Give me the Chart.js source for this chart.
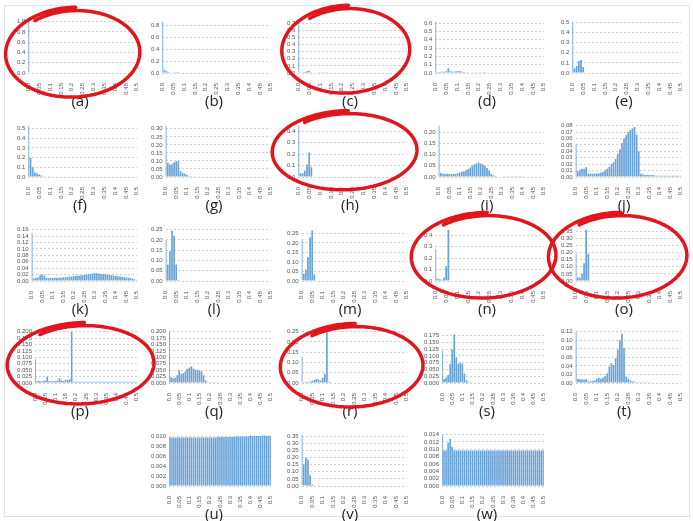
<!DOCTYPE html>
<html>
<head>
<meta charset="utf-8">
<script src="https://cdn.jsdelivr.net/npm/chart.js@4.4.0/dist/chart.umd.min.js"></script>
<style>
  body { margin: 0; background: #fff; }
  #fig { position: relative; width: 693px; height: 521px; overflow: hidden; }
  #frame { position: absolute; left: 4px; top: 5px; width: 686px; height: 512px; border: 1px solid #e2e2e2; box-sizing: border-box; }
  .panel { position: absolute; }
  .lbl { position: absolute; width: 132px; text-align: center; font: 15px 'Open Sans', sans-serif; color: #222; }
  #marks { position: absolute; left: 0; top: 0; pointer-events: none; }
</style>
</head>
<body>
<div id="fig">
  <div id="frame"></div>
  <canvas id="marks" width="693" height="521"></canvas>
</div>
<script>
// histogram bins (0 .. 0.5, step 0.01)
var bins = ['0.00','0.01','0.02','0.03','0.04','0.05','0.06','0.07','0.08','0.09',
            '0.10','0.11','0.12','0.13','0.14','0.15','0.16','0.17','0.18','0.19',
            '0.20','0.21','0.22','0.23','0.24','0.25','0.26','0.27','0.28','0.29',
            '0.30','0.31','0.32','0.33','0.34','0.35','0.36','0.37','0.38','0.39',
            '0.40','0.41','0.42','0.43','0.44','0.45','0.46','0.47','0.48','0.49','0.50'];
var xTickLabels = ['0.0','0.05','0.1','0.15','0.2','0.25','0.3','0.35','0.4','0.45','0.5'];
var panelNames = ['(a)','(b)','(c)','(d)','(e)','(f)','(g)','(h)','(i)','(j)','(k)','(l)',
                  '(m)','(n)','(o)','(p)','(q)','(r)','(s)','(t)','(u)','(v)','(w)'];

// series values per panel (bin index 0 = 0.00)
var a = [1.0];
var b = [0.87, 0.05, 0.03, 0.015, 0.008, 0.005, 0.003, 0.002];
var c = [0.72, 0.01, 0.012, 0.015, 0.025, 0.03, 0.012, 0.008, 0.006, 0.005, 0.004, 0.003, 0.002, 0.002];
var d = [0.62, 0.012, 0.012, 0.014, 0.016, 0.02, 0.058, 0.02, 0.016, 0.018, 0.022, 0.025, 0.018, 0.012,
         0.01, 0.008, 0.006, 0.005, 0.004, 0.003, 0.003, 0.002, 0.002, 0.001];
var e = [0.51, 0.047, 0.07, 0.12, 0.13, 0.06];
var f = [0.53, 0.197, 0.1, 0.05, 0.035, 0.025, 0.015, 0.008, 0.005, 0.003, 0.002];
var g = [0.32, 0.088, 0.078, 0.08, 0.09, 0.098, 0.098, 0.036, 0.026, 0.022, 0.014, 0.008, 0.005, 0.003, 0.002];
var h = [0.45, 0.033, 0.033, 0.055, 0.11, 0.215, 0.085];
var i_ = [0.23, 0.018, 0.015, 0.015, 0.014, 0.013, 0.012, 0.013, 0.015, 0.017, 0.02, 0.023, 0.026, 0.03,
          0.036, 0.042, 0.05, 0.057, 0.062, 0.065, 0.06, 0.056, 0.05, 0.04, 0.03, 0.015, 0.008, 0.005,
          0.003, 0.002, 0.002, 0.001, 0.001, 0.001, 0.001, 0.001, 0.001, 0.001, 0.001, 0.001, 0.001];
var j = [0.052, 0.009, 0.011, 0.013, 0.013, 0.015, 0.005, 0.005, 0.005, 0.005, 0.006, 0.006, 0.007, 0.008,
         0.01, 0.013, 0.016, 0.02, 0.023, 0.028, 0.036, 0.043, 0.053, 0.06, 0.065, 0.07, 0.073, 0.076,
         0.078, 0.066, 0.04, 0.005, 0.004, 0.003, 0.003, 0.003, 0.003, 0.003, 0.002, 0.002, 0.002,
         0.002, 0.002, 0.002, 0.002, 0.002, 0.002, 0.002, 0.002, 0.002, 0.002];
var k = [0.15, 0.008, 0.009, 0.011, 0.018, 0.02, 0.016, 0.009, 0.009, 0.009, 0.009, 0.01, 0.01, 0.01,
         0.01, 0.012, 0.012, 0.013, 0.013, 0.014, 0.015, 0.016, 0.016, 0.017, 0.018, 0.019, 0.02, 0.021,
         0.022, 0.023, 0.024, 0.024, 0.023, 0.022, 0.022, 0.021, 0.02, 0.019, 0.018, 0.017, 0.016, 0.015,
         0.014, 0.013, 0.012, 0.011, 0.01, 0.009, 0.007, 0.005, 0.003];
var l = [0.2, 0.08, 0.145, 0.245, 0.22, 0.08, 0.005];
var m = [0.22, 0.04, 0.06, 0.125, 0.23, 0.265, 0.035];
var n = [0.28, 0.02, 0.015, 0.012, 0.03, 0.13, 0.45];
var o = [0.19, 0.025, 0.025, 0.05, 0.125, 0.36, 0.19];
var p = [0.092, 0.008, 0.008, 0.007, 0.008, 0.01, 0.025, 0.008, 0.007, 0.007, 0.008, 0.01, 0.018, 0.01,
         0.008, 0.012, 0.012, 0.015, 0.2, 0.005, 0.005, 0.005, 0.005, 0.005, 0.005, 0.005, 0.005, 0.005,
         0.005, 0.005, 0.005, 0.005, 0.005, 0.005, 0.005, 0.005, 0.005, 0.005, 0.005, 0.005, 0.005, 0.005,
         0.005, 0.005, 0.005, 0.005, 0.005, 0.005, 0.005, 0.005, 0.005];
var q = [0.2, 0.022, 0.018, 0.02, 0.03, 0.05, 0.035, 0.038, 0.045, 0.055, 0.06, 0.065, 0.055, 0.052,
         0.052, 0.05, 0.045, 0.03, 0.01, 0.004, 0.002, 0.001, 0.001, 0.001, 0.001];
var r = [0.13, 0.005, 0.005, 0.005, 0.006, 0.01, 0.015, 0.02, 0.018, 0.012, 0.025, 0.045, 0.25, 0.006,
         0.004, 0.003, 0.003, 0.002, 0.002, 0.002, 0.002, 0.002, 0.002, 0.002, 0.002, 0.002, 0.002, 0.002,
         0.002, 0.002, 0.002, 0.002, 0.002, 0.002, 0.002, 0.002, 0.002, 0.002, 0.002, 0.002, 0.002, 0.002,
         0.002, 0.002, 0.002, 0.002, 0.002, 0.002, 0.002, 0.002, 0.002];
var s = [0.12, 0.015, 0.02, 0.03, 0.07, 0.125, 0.18, 0.095, 0.07, 0.075, 0.072, 0.035, 0.01, 0.005,
         0.003, 0.002, 0.002, 0.001];
var t = [0.12, 0.01, 0.009, 0.008, 0.008, 0.009, 0.004, 0.004, 0.005, 0.006, 0.01, 0.012, 0.01, 0.012,
         0.016, 0.023, 0.038, 0.046, 0.042, 0.058, 0.078, 0.1, 0.115, 0.082, 0.015, 0.01, 0.006, 0.004,
         0.003, 0.002, 0.002, 0.002, 0.002, 0.002, 0.002, 0.002, 0.001, 0.001, 0.001, 0.001];
var u = [0.0099, 0.0098, 0.0098, 0.0098, 0.0098, 0.0098, 0.0098, 0.0098, 0.0098, 0.0098, 0.0098, 0.0098,
         0.0098, 0.0098, 0.0098, 0.0098, 0.0098, 0.0098, 0.0098, 0.0098, 0.0098, 0.0098, 0.0098, 0.0098,
         0.0099, 0.0099, 0.0099, 0.0099, 0.0099, 0.0099, 0.0099, 0.0099, 0.0099, 0.01, 0.01, 0.01, 0.01,
         0.01, 0.01, 0.01, 0.0102, 0.0101, 0.0101, 0.0101, 0.0101, 0.0101, 0.0102, 0.0102, 0.0101, 0.0102, 0.0101];
var v = [0.36, 0.15, 0.2, 0.185, 0.075, 0.01, 0.002];
var w = [0.014, 0.0097, 0.0097, 0.0118, 0.0128, 0.0106, 0.0097, 0.0097, 0.0097, 0.0097, 0.0097, 0.0097,
         0.0097, 0.0097, 0.0097, 0.0097, 0.0097, 0.0097, 0.0097, 0.0097, 0.0097, 0.0097, 0.0097, 0.0097,
         0.0097, 0.0097, 0.0097, 0.0097, 0.0097, 0.0097, 0.0097, 0.0097, 0.0097, 0.0097, 0.0097, 0.0097,
         0.0097, 0.0097, 0.0097, 0.0097, 0.0097, 0.0097, 0.0097, 0.0097, 0.0097, 0.0097, 0.0097, 0.0097,
         0.0097, 0.0097, 0.0097];
var series = [a, b, c, d, e, f, g, h, i_, j, k, l, m, n, o, p, q, r, s, t, u, v, w];

// y axis tops, tick steps and decimals per panel
var yMax   = [1.0, 0.87, 0.72, 0.62, 0.51, 0.53, 0.32, 0.45, 0.23, 0.08, 0.16, 0.25,
              0.27, 0.45, 0.36, 0.2, 0.2, 0.25, 0.19, 0.12, 0.0104, 0.36, 0.014];
var yStep  = [0.2, 0.2, 0.1, 0.1, 0.1, 0.1, 0.05, 0.1, 0.05, 0.01, 0.02, 0.05,
              0.05, 0.1, 0.05, 0.025, 0.025, 0.05, 0.025, 0.02, 0.002, 0.05, 0.002];
var yDec   = [1, 1, 1, 1, 1, 1, 2, 1, 2, 2, 2, 2, 2, 1, 2, 3, 3, 2, 3, 2, 3, 2, 3];

// layout
var colLeft = [14, 148, 284, 421, 558];
var rowZero = [73, 177, 281, 383, 486];
var W = 132, H = 80, XH = 22;

var fig = document.getElementById('fig');

series.forEach(function(data, idx) {
    var row = Math.floor(idx / 5);
    var col = idx % 5;
    if (idx >= 20) { row = 4; col = idx - 19; }

    var top = rowZero[row] - (H - XH);
    var box = document.createElement('div');
    box.className = 'panel';
    box.style.left = colLeft[col] + 'px';
    box.style.top = top + 'px';
    var cv = document.createElement('canvas');
    cv.width = W; cv.height = H;
    box.appendChild(cv);
    fig.insertBefore(box, document.getElementById('marks'));

    var lab = document.createElement('div');
    lab.className = 'lbl';
    lab.textContent = panelNames[idx];
    lab.style.left = colLeft[col] + 'px';
    lab.style.top = (rowZero[row] + 17) + 'px';
    fig.insertBefore(lab, document.getElementById('marks'));

    new Chart(cv, {
        type: 'bar',
        data: {
            labels: bins,
            datasets: [{
                data: data,
                backgroundColor: '#6aa3d8',
                borderWidth: 0,
                barPercentage: 0.8,
                categoryPercentage: 1,
                clip: 0
            }]
        },
        options: {
            responsive: false,
            animation: false,
            plugins: { legend: { display: false }, tooltip: { enabled: false } },
            layout: { padding: { top: 4, right: 3, left: 0, bottom: 0 } },
            scales: {
                x: {
                    offset: false,
                    grid: { display: false },
                    border: { display: false },
                    ticks: {
                        autoSkip: false, minRotation: 90, maxRotation: 90, padding: 2,
                        color: '#555', font: { size: 6, family: 'Liberation Sans' },
                        callback: function(val, i) { return i % 5 === 0 ? xTickLabels[i / 5] : ''; }
                    },
                    afterFit: function(scale) { scale.height = XH; }
                },
                y: {
                    min: 0,
                    max: yMax[idx],
                    grid: { color: '#cfcfcf', drawTicks: false },
                    border: { display: false, dash: [2, 2] },
                    ticks: {
                        autoSkip: false,
                        stepSize: yStep[idx], includeBounds: false, padding: 3,
                        color: '#555', font: { size: 6, family: 'Liberation Sans' },
                        callback: function(val) { return val.toFixed(yDec[idx]); }
                    }
                }
            }
        }
    });
});

// hand drawn red loops around some panels
var mk = document.getElementById('marks').getContext('2d');
mk.strokeStyle = '#e0161c';
mk.lineWidth = 3.5;
mk.lineCap = 'round';
mk.lineJoin = 'round';
function loop(cx, cy, rx, ry, rot) {
    var start = -2.2, end = start + Math.PI * 2 + 0.7;
    mk.beginPath();
    for (var aa = start; aa <= end; aa += 0.04) {
        var grow = 1 + 0.09 * (aa - start) / (end - start);
        var px = Math.cos(aa) * rx * grow, py = Math.sin(aa) * ry * grow;
        var x = cx + px * Math.cos(rot) - py * Math.sin(rot);
        var y = cy + px * Math.sin(rot) + py * Math.cos(rot);
        if (aa === start) mk.moveTo(x, y); else mk.lineTo(x, y);
    }
    mk.stroke();
}
loop(74, 53, 64, 42, -0.04);
loop(347, 50, 61, 41, -0.04);
loop(346, 151, 69, 37, -0.03);
loop(485, 256, 69, 40, -0.03);
loop(619, 256, 66, 40, -0.03);
loop(82, 364, 70, 38, -0.03);
loop(353, 366, 68, 39, -0.03);
</script>
</body>
</html>
